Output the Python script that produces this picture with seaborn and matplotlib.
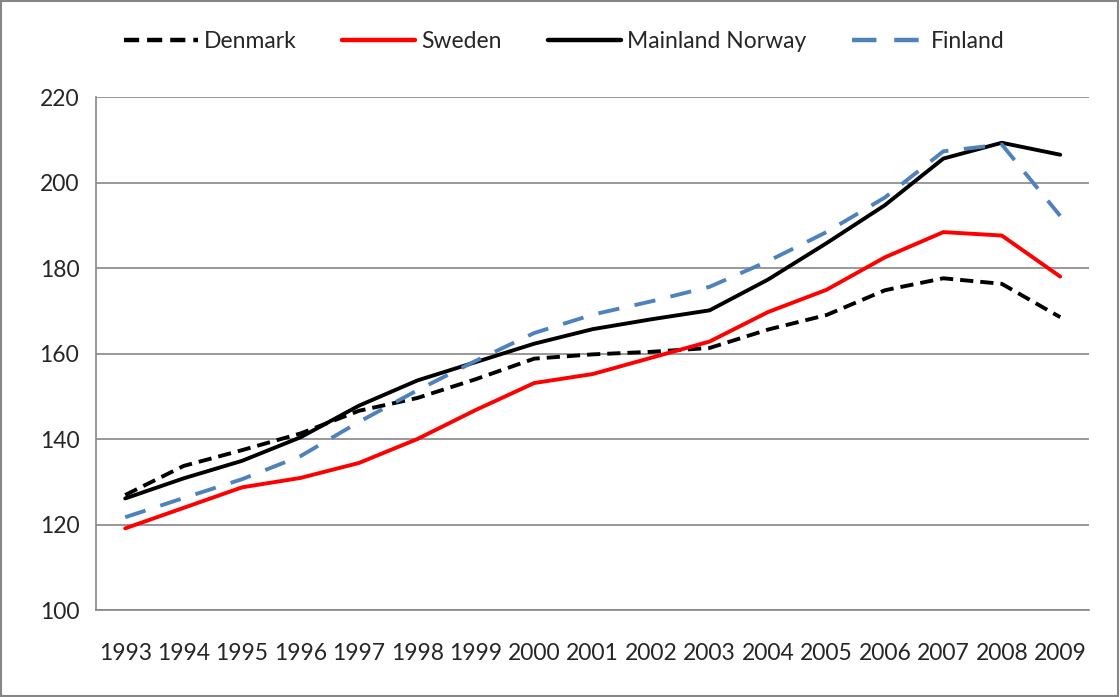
import pandas as pd
import numpy as np
import matplotlib.pyplot as plt
import seaborn as sns
from matplotlib.patches import Rectangle

# ==============================
# Data (index values)
# ==============================
years = [str(y) for y in range(1993, 2010)]

denmark = [126.9, 133.7, 137.4, 141.3, 146.6, 149.6, 154.0, 158.8, 159.8, 160.4,
           161.3, 165.6, 169.0, 174.8, 177.6, 176.3, 168.5]
sweden = [119.1, 123.9, 128.7, 130.9, 134.4, 140.0, 146.8, 153.1, 155.2, 159.0,
          162.8, 169.7, 174.9, 182.5, 188.4, 187.6, 178.0]
norway = [126.1, 130.8, 134.9, 140.4, 147.8, 153.7, 158.0, 162.3, 165.7, 168.0,
          170.1, 177.3, 185.8, 194.7, 205.6, 209.3, 206.5]
finland = [121.7, 126.2, 130.6, 136.0, 144.0, 151.4, 158.3, 164.8, 169.1, 172.2,
           175.6, 181.6, 188.4, 196.5, 207.3, 208.9, 192.2]

countries = ["Denmark", "Sweden", "Mainland Norway", "Finland"]
series = [denmark, sweden, norway, finland]

df = pd.concat(
    [pd.DataFrame({"year_idx": np.arange(len(years)), "value": vals, "country": name})
     for name, vals in zip(countries, series)],
    ignore_index=True,
)

palette = {"Denmark": "black", "Sweden": "#FF0000",
           "Mainland Norway": "black", "Finland": "#4F81BD"}
dashes = {"Denmark": (3.4, 1.8), "Sweden": "", "Mainland Norway": "", "Finland": (5.5, 4.0)}

# ==============================
# Plot
# ==============================
sns.set_style("white")
plt.rcParams["font.family"] = ["Lato", "DejaVu Sans"]

fig = plt.figure(figsize=(11.2, 6.97), dpi=100)
ax = fig.add_axes([0.0857, 0.1248, 0.887, 0.736])

sns.lineplot(data=df, x="year_idx", y="value", hue="country", style="country",
             hue_order=countries, style_order=countries, palette=palette,
             dashes=dashes, linewidth=2.8, ax=ax)

grid_c = "#868686"
ax.set_ylim(100, 220)
ax.set_yticks(range(100, 221, 20))
ax.set_xlim(-0.5, len(years) - 0.5)
ax.set_xticks(np.arange(len(years)))
ax.set_xticklabels(years)
ax.set_xticks(np.arange(-0.5, len(years)), minor=True)
ax.yaxis.grid(True, color=grid_c, linewidth=1.2)
ax.set_axisbelow(True)
ax.tick_params(axis="x", which="major", length=0, pad=24, labelsize=16.5)
ax.tick_params(axis="x", which="minor", length=7, width=1.2, color=grid_c, direction="out")
ax.tick_params(axis="y", length=7, width=1.2, color=grid_c, direction="out", labelsize=16.5, pad=5)
ax.set_xlabel("")
ax.set_ylabel("")
for s in ["top", "right"]:
    ax.spines[s].set_visible(False)
for s in ["left", "bottom"]:
    ax.spines[s].set_color(grid_c)
    ax.spines[s].set_linewidth(1.2)

sns.move_legend(ax, "center", bbox_to_anchor=(0.504, 0.94),
                bbox_transform=fig.transFigure, ncol=4, frameon=False, title=None,
                fontsize=16.5, handlelength=3.2, handletextpad=0.25, columnspacing=2.0)
for h in ax.get_legend().get_lines():
    h.set_linewidth(3.2)

# outer chart border
fig.add_artist(Rectangle((0.001, 0.002), 0.997, 0.996, transform=fig.transFigure,
                         fill=False, edgecolor=grid_c, linewidth=1.5))

fig.savefig("out.png", dpi=100)
